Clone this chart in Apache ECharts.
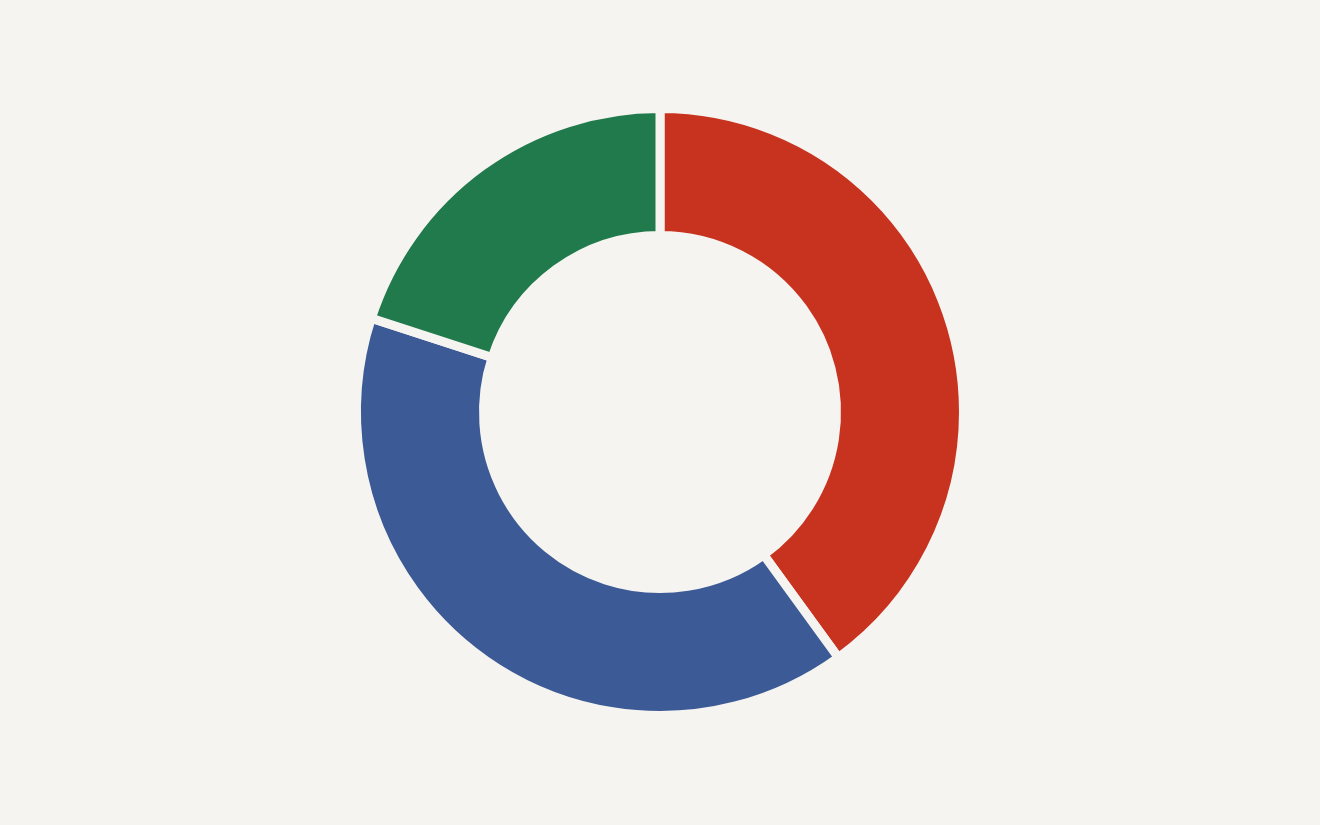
<!DOCTYPE html>
<html><head><meta charset="utf-8">
<script src="https://cdn.jsdelivr.net/npm/echarts@6/dist/echarts.min.js"></script>
<style>html,body{margin:0;padding:0;background:#f5f4f0;}#c{width:1320px;height:825px;}</style>
</head><body><div id="c"></div>
<script>
const categories = ['A', 'B', 'C'];
const values = [40, 40, 20];
const colors = ['#c8331f', '#3c5a96', '#217a4c'];
const chart = echarts.init(document.getElementById('c'));
chart.setOption({
  backgroundColor: '#f5f4f0',
  animation: false,
  series: [{
    type: 'pie',
    center: [660, 412],
    radius: [176.5, 303.5],
    startAngle: 90,
    clockwise: true,
    label: { show: false },
    labelLine: { show: false },
    itemStyle: { borderColor: '#f5f4f0', borderWidth: 9 },
    data: categories.map((c, i) => ({ name: c, value: values[i], itemStyle: { color: colors[i] } }))
  }]
});
</script></body></html>
